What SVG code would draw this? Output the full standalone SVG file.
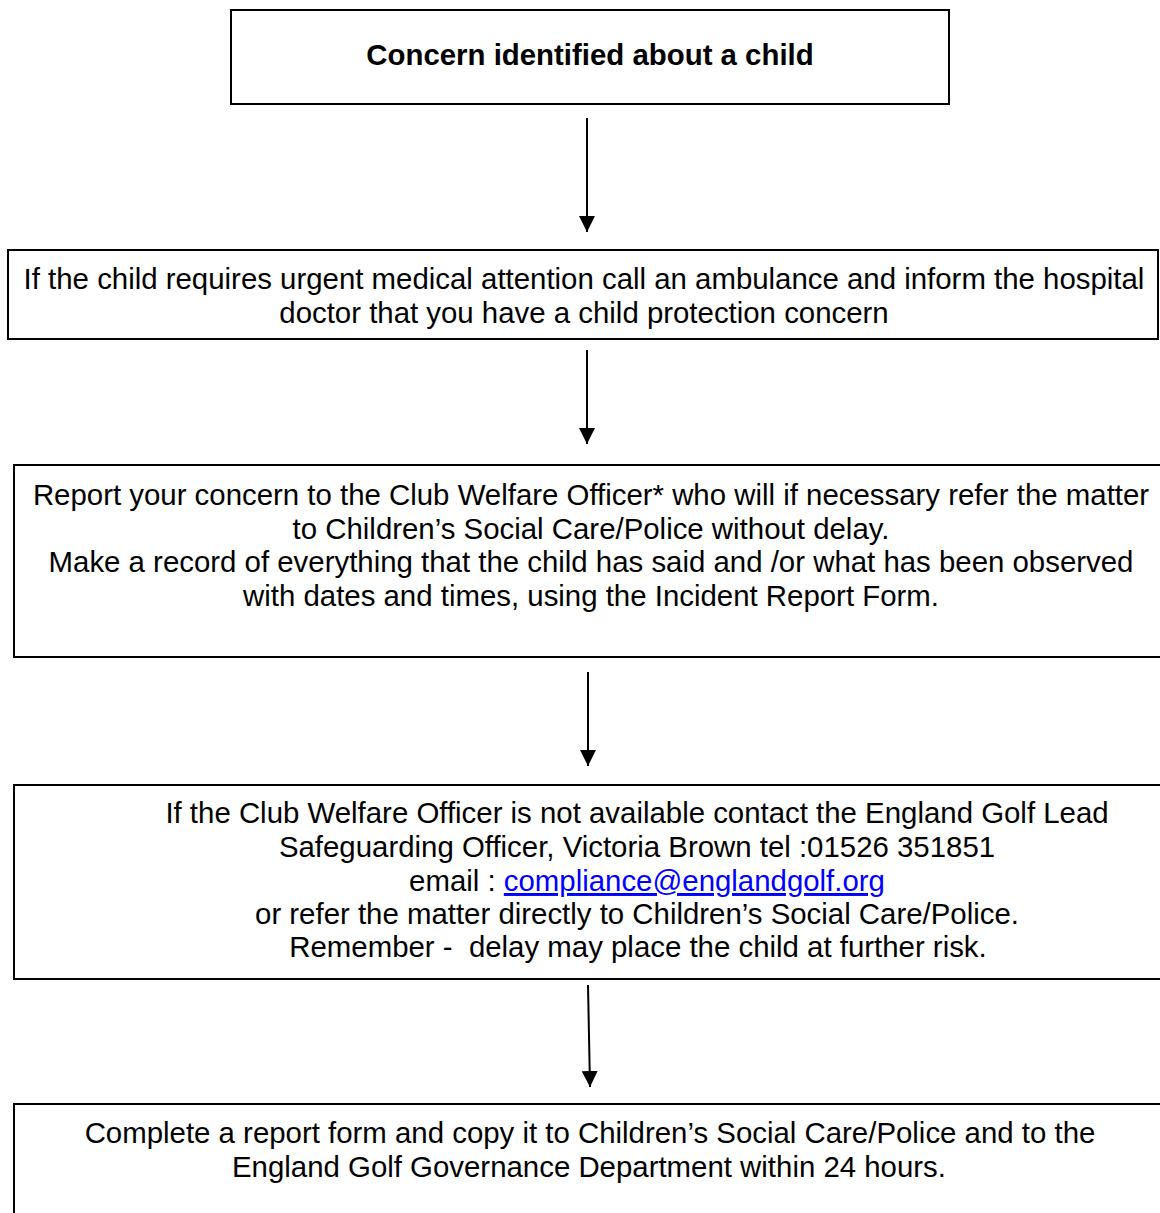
<svg xmlns="http://www.w3.org/2000/svg" width="1160" height="1213" viewBox="0 0 1160 1213">
<defs>
<style>
.box{fill:#fff;stroke:#000;stroke-width:2}
.t{font-family:"Liberation Sans",Arial,sans-serif;font-size:29.4px;fill:#000;text-anchor:middle}
.b{font-weight:bold}
.conn{stroke:#000;stroke-width:2;fill:none}
.link{fill:#0000ff;text-decoration:underline}
</style>
<marker id="ah" markerUnits="userSpaceOnUse" markerWidth="18" markerHeight="18" viewBox="0 0 18 18" refX="16" refY="9" orient="auto">
<path d="M0,1 L16,9 L0,17 Z" fill="#000"/>
</marker>
</defs>
<rect width="1160" height="1213" fill="#fff"/>
<g id="connectors">
<line class="conn" x1="587" y1="118" x2="587" y2="232" marker-end="url(#ah)"/>
<line class="conn" x1="587" y1="350" x2="587" y2="444" marker-end="url(#ah)"/>
<line class="conn" x1="588" y1="672" x2="588" y2="766" marker-end="url(#ah)"/>
<line class="conn" x1="588" y1="985" x2="590" y2="1087" marker-end="url(#ah)"/>
</g>
<g id="n1">
<rect class="box" x="231" y="10" width="718" height="94"/>
<text class="t b" x="590" y="65">Concern identified about a child</text>
</g>
<g id="n2">
<rect class="box" x="8" y="250" width="1150" height="89"/>
<text class="t" x="584" y="289">If the child requires urgent medical attention call an ambulance and inform the hospital</text>
<text class="t" x="584" y="323">doctor that you have a child protection concern</text>
</g>
<g id="n3">
<rect class="box" x="14" y="465" width="1160" height="192"/>
<text class="t" x="591" y="505">Report your concern to the Club Welfare Officer* who will if necessary refer the matter</text>
<text class="t" x="591" y="539">to Children’s Social Care/Police without delay.</text>
<text class="t" x="591" y="572">Make a record of everything that the child has said and /or what has been observed</text>
<text class="t" x="591" y="606">with dates and times, using the Incident Report Form.</text>
</g>
<g id="n4">
<rect class="box" x="14" y="785" width="1160" height="194"/>
<text class="t" x="637" y="823">If the Club Welfare Officer is not available contact the England Golf Lead</text>
<text class="t" x="637" y="857">Safeguarding Officer, Victoria Brown tel :01526 351851</text>
<text class="t" x="647" y="891">email : <tspan class="link">compliance@englandgolf.org</tspan></text>
<text class="t" x="637" y="924">or refer the matter directly to Children’s Social Care/Police.</text>
<text class="t" x="638" y="957" style="white-space:pre">Remember -  delay may place the child at further risk.</text>
</g>
<g id="n5">
<rect class="box" x="14" y="1104" width="1160" height="130"/>
<text class="t" x="590" y="1143">Complete a report form and copy it to Children’s Social Care/Police and to the</text>
<text class="t" x="589" y="1177">England Golf Governance Department within 24 hours.</text>
</g>
</svg>
